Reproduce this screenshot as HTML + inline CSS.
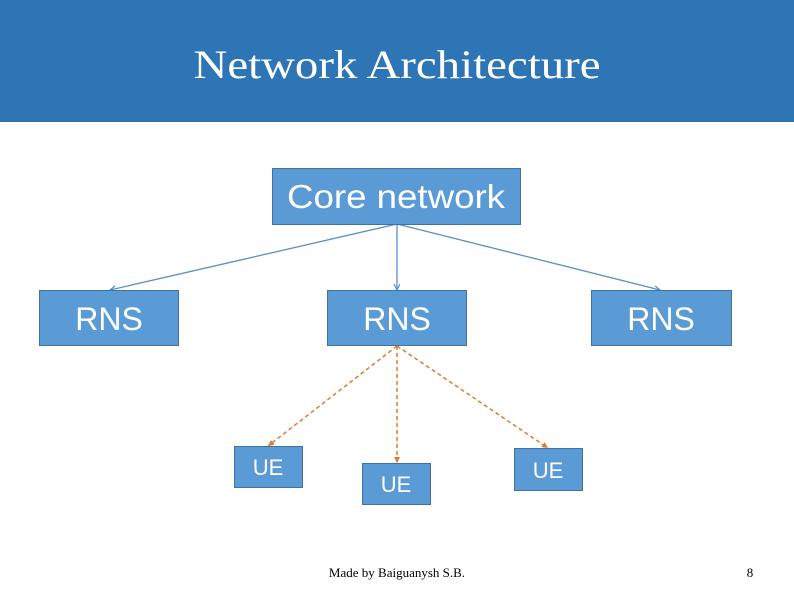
<!DOCTYPE html>
<html><head><meta charset="utf-8"><style>
html,body{margin:0;padding:0;background:#fff;}
svg{display:block;}
</style></head><body>
<svg width="794" height="595" viewBox="0 0 794 595" xmlns="http://www.w3.org/2000/svg">
<defs>
<marker id="ab" markerWidth="8" markerHeight="8" refX="6" refY="3" orient="auto" markerUnits="userSpaceOnUse"><path d="M0,0 L6,3 L0,6" fill="none" stroke="#5B8FC8" stroke-width="1.2"/></marker>
<marker id="ao" markerWidth="8" markerHeight="8" refX="6" refY="3" orient="auto" markerUnits="userSpaceOnUse"><path d="M0,0 L6,3 L0,6 Z" fill="#E07A30"/></marker>
</defs>
<rect x="0" y="0" width="794" height="122" fill="#2E75B6"/>
<text x="397" y="78" text-anchor="middle" font-family="Liberation Serif, serif" font-size="40" fill="#fff" textLength="407" lengthAdjust="spacingAndGlyphs">Network Architecture</text>
<g stroke="#5B8FC8" stroke-width="1.3" fill="none" marker-end="url(#ab)">
<line x1="397" y1="224" x2="110" y2="290"/>
<line x1="397" y1="224" x2="397" y2="290"/>
<line x1="397" y1="224" x2="660" y2="290"/>
</g>
<g stroke="#E07A30" stroke-width="1.5" fill="none" stroke-dasharray="4,3" marker-end="url(#ao)">
<line x1="397" y1="346" x2="268" y2="446"/>
<line x1="397" y1="346" x2="397" y2="463"/>
<line x1="397" y1="346" x2="548" y2="448"/>
</g>
<g fill="#5B9BD5" stroke="#41719C" stroke-width="1">
<rect x="272.5" y="168.5" width="248" height="56"/>
<rect x="39.5" y="290.5" width="139" height="55"/>
<rect x="327.5" y="290.5" width="139" height="55"/>
<rect x="591.5" y="290.5" width="140" height="55"/>
<rect x="234.5" y="446.5" width="68" height="41"/>
<rect x="362.5" y="463.5" width="68" height="41"/>
<rect x="514.5" y="448.5" width="68" height="42"/>
</g>
<g font-family="Liberation Sans, sans-serif" fill="#fff" text-anchor="middle">
<text x="396" y="208" font-size="33" textLength="218" lengthAdjust="spacingAndGlyphs">Core network</text>
<text x="109" y="330" font-size="32">RNS</text>
<text x="397" y="330" font-size="32">RNS</text>
<text x="661" y="330" font-size="32">RNS</text>
<text x="268" y="475" font-size="22">UE</text>
<text x="396" y="492" font-size="22">UE</text>
<text x="548" y="478" font-size="22">UE</text>
</g>
<text x="397" y="577" text-anchor="middle" font-family="Liberation Serif, serif" font-size="13" fill="#000">Made by Baiguanysh S.B.</text>
<text x="750" y="577" text-anchor="middle" font-family="Liberation Serif, serif" font-size="13" fill="#000">8</text>
</svg>
</body></html>
